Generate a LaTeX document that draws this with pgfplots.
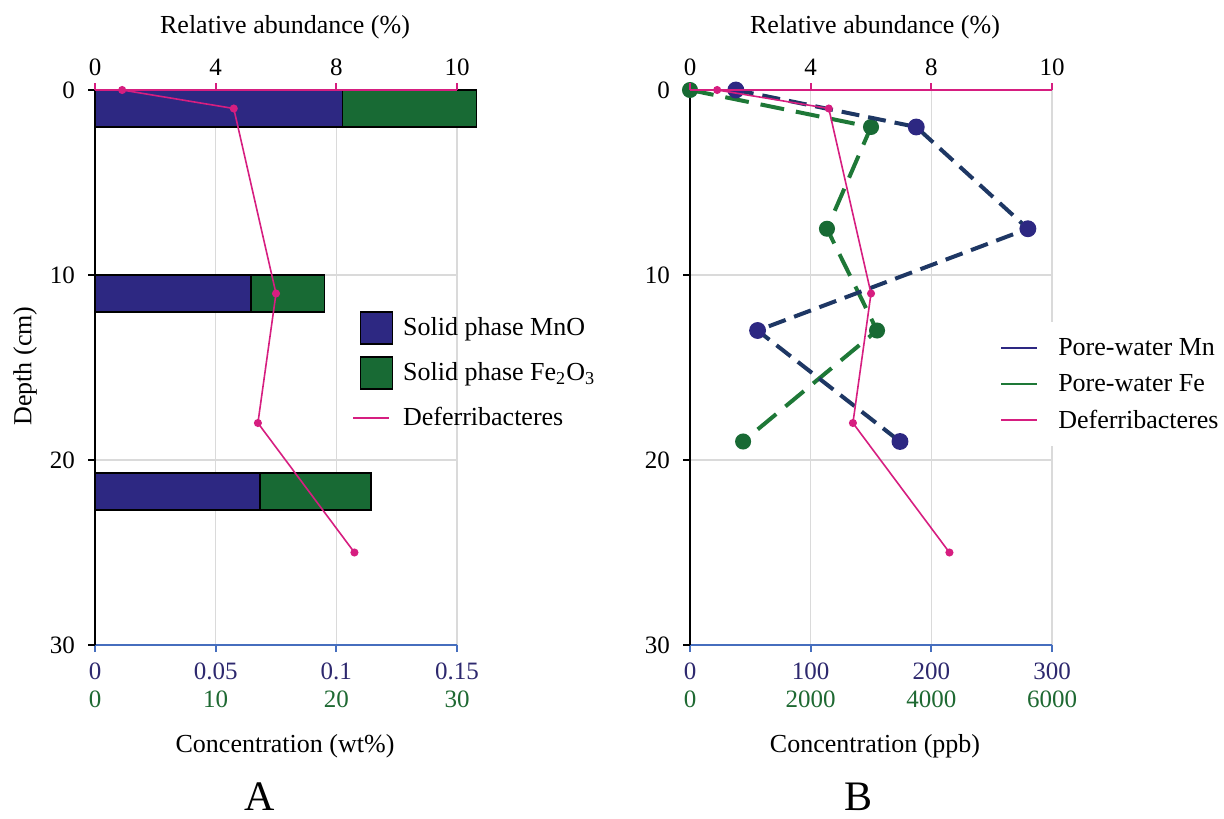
\documentclass[border=0pt]{standalone}
\usepackage{fontspec}
\setmainfont{Liberation Serif}
\usepackage{pgfplots}
\usepackage{pgfplotstable}
\pgfplotsset{compat=1.18}
\definecolor{mnc}{RGB}{45,40,130}
\definecolor{fec}{RGB}{24,106,52}
\definecolor{defc}{RGB}{214,30,128}
\definecolor{mnl}{RGB}{30,55,100}
\definecolor{fel}{RGB}{30,120,55}
\definecolor{axb}{RGB}{70,110,190}
\definecolor{gridc}{RGB}{218,218,218}
\definecolor{tkmn}{RGB}{45,40,110}
\definecolor{tkfe}{RGB}{30,105,50}

% solid phase: depth centre, MnO (wt%), Fe2O3 (wt%)
\pgfplotstableread{
depth mno fe
1    0.1026 11.1
11   0.0646 6.1
21.7 0.0684 9.2
}\solid
% Deferribacteres relative abundance (position on top scale: 0,4,8 | 12 = label 10)
\pgfplotstableread{
depth rel
0  0.9
1  4.6
11 6.0
18 5.4
25 8.6
}\defer
\pgfplotstableread{
depth mn
0   38
2   187.5
7.5 280
13  56
19  174
}\porMn
\pgfplotstableread{
depth fe
0   0
2   3000
7.5 2270
13  3100
19  880
}\porFe

\pgfplotsset{
  base/.style={
    scale only axis, width=181pt, height=277.5pt,
    ymin=0, ymax=30, y dir=reverse,
    anchor=south west,
    tick label style={font=\fontsize{12.5}{14}\selectfont},
    /pgf/number format/assume math mode=true,
    axis line style={-},
    tick align=outside,
    major tick length=3.5pt,
    clip=false,
  },
  frameaxis/.style={
    base,
    axis x line*=bottom, axis y line*=left,
    x axis line style={draw=axb, line width=1pt},
    y axis line style={draw=black, line width=1pt},
    xtick style={draw=axb, line width=1pt},
    ytick style={draw=black, line width=1pt},
    xticklabel style={align=center, yshift=-2pt},
    yticklabel style={xshift=-3pt},
    ytick={0,10,20,30},
    xmajorgrids, ymajorgrids,
    grid style={gridc, line width=0.8pt},
  },
  topaxis/.style={
    base,
    xmin=0, xmax=12,
    axis x line*=top, axis y line=none,
    x axis line style={draw=defc, line width=1pt},
    xtick style={draw=defc, line width=1pt},
    xtick={0,4,8,12}, xticklabels={0,4,8,10},
    ytick=\empty,
  },
}

\begin{document}
\begin{tikzpicture}
\path[use as bounding box] (0pt,0pt) rectangle (612pt,409pt);

% ===================== Panel A =====================
\begin{axis}[frameaxis, at={(47.5pt,86.5pt)},
  xmin=0, xmax=0.15,
  xtick={0,0.05,0.1,0.15},
  xticklabels={{\textcolor{tkmn}{0}\\\textcolor{tkfe}{0}},
               {\textcolor{tkmn}{0.05}\\\textcolor{tkfe}{10}},
               {\textcolor{tkmn}{0.1}\\\textcolor{tkfe}{20}},
               {\textcolor{tkmn}{0.15}\\\textcolor{tkfe}{30}}},
  xbar stacked, bar width=2,
]
\addplot[fill=mnc, draw=black, line width=0.8pt] table[x=mno, y=depth]{\solid};
\addplot[fill=fec, draw=black, line width=0.8pt] table[x expr=\thisrow{fe}/200, y=depth]{\solid};
\node[white, font=\fontsize{13}{15}\selectfont] at (axis cs:0.027,1) {MnO};
\node[white, font=\fontsize{13}{15}\selectfont] at (axis cs:0.1313,1.1) {Fe\textsubscript{2}O\textsubscript{3}};
\end{axis}

\begin{axis}[topaxis, at={(47.5pt,86.5pt)},
  legend style={at={(axis cs:8.45,11.75)}, anchor=north west, draw=none, fill=none,
    inner sep=1pt, row sep=4.5pt,
    font=\fontsize{13}{15}\selectfont,
    nodes={minimum height=18pt, inner sep=0pt},
    /tikz/every odd column/.append style={column sep=5pt}},
  legend cell align=left,
]
\addlegendimage{legend image code/.code={\draw[fill=mnc, draw=black, line width=0.8pt] (0pt,-8pt) rectangle (16pt,8pt);}}
\addlegendentry{Solid phase MnO}
\addlegendimage{legend image code/.code={\draw[fill=fec, draw=black, line width=0.8pt] (0pt,-8pt) rectangle (16pt,8pt);}}
\addlegendentry{Solid phase Fe\textsubscript{2}O\textsubscript{3}}
\addplot[defc, line width=0.8pt, mark=*, mark size=1.6pt,
  legend image code/.code={\draw[defc, line width=1pt] (-3.5pt,0pt) -- (14.5pt,0pt);}]
  table[x=rel, y=depth]{\defer};
\addlegendentry{Deferribacteres}
\end{axis}

% ===================== Panel B =====================
\begin{axis}[frameaxis, at={(345pt,86.5pt)},
  xmin=0, xmax=6000,
  xtick={0,2000,4000,6000},
  xticklabels={{\textcolor{tkmn}{0}\\\textcolor{tkfe}{0}},
               {\textcolor{tkmn}{100}\\\textcolor{tkfe}{2000}},
               {\textcolor{tkmn}{200}\\\textcolor{tkfe}{4000}},
               {\textcolor{tkmn}{300}\\\textcolor{tkfe}{6000}}},
]
\addplot[fel, line width=2pt, dash pattern=on 12pt off 6pt, mark=*, mark size=3pt,
  mark options={solid, fill=fec, draw=fec}] table[x=fe, y=depth]{\porFe};
\end{axis}

\begin{axis}[base, at={(345pt,86.5pt)}, hide axis, xmin=0, xmax=300]
\addplot[mnl, line width=2pt, dash pattern=on 9pt off 4.5pt, mark=*, mark size=3.2pt,
  mark options={solid, fill=mnc, draw=mnc}] table[x=mn, y=depth]{\porMn};
\end{axis}

\begin{axis}[topaxis, at={(345pt,86.5pt)},
  legend style={at={(axis cs:9.94,12.54)}, anchor=north west, draw=none, fill=white,
    inner xsep=5pt, inner ysep=6pt, row sep=4pt,
    font=\fontsize{13}{15}\selectfont,
    nodes={minimum height=14pt, inner sep=0pt},
    /tikz/every odd column/.append style={column sep=10pt}},
  legend cell align=left,
]
\addlegendimage{legend image code/.code={\draw[mnc, line width=1pt] (0pt,0pt) -- (18pt,0pt);}}
\addlegendentry{Pore-water Mn}
\addlegendimage{legend image code/.code={\draw[fel, line width=1pt] (0pt,0pt) -- (18pt,0pt);}}
\addlegendentry{Pore-water Fe}
\addplot[defc, line width=0.8pt, mark=*, mark size=1.6pt,
  legend image code/.code={\draw[defc, line width=1pt] (0pt,0pt) -- (18pt,0pt);}]
  table[x=rel, y=depth]{\defer};
\addlegendentry{Deferribacteres}
\end{axis}

% ===================== Labels =====================
\node[font=\fontsize{13}{15}\selectfont] at (142.5pt,395.5pt) {Relative abundance (\%)};
\node[font=\fontsize{13}{15}\selectfont] at (437.5pt,395.5pt) {Relative abundance (\%)};
\node[font=\fontsize{13}{15}\selectfont] at (142.5pt,36pt) {Concentration (wt\%)};
\node[font=\fontsize{13}{15}\selectfont] at (437.5pt,36pt) {Concentration (ppb)};
\node[font=\fontsize{13}{15}\selectfont, rotate=90] at (12.5pt,226pt) {Depth (cm)};
\node[font=\fontsize{21}{23}\selectfont, anchor=base, inner sep=0pt] at (130pt,4pt) {A};
\node[font=\fontsize{21}{23}\selectfont, anchor=base, inner sep=0pt] at (429pt,4pt) {B};
\end{tikzpicture}
\end{document}
